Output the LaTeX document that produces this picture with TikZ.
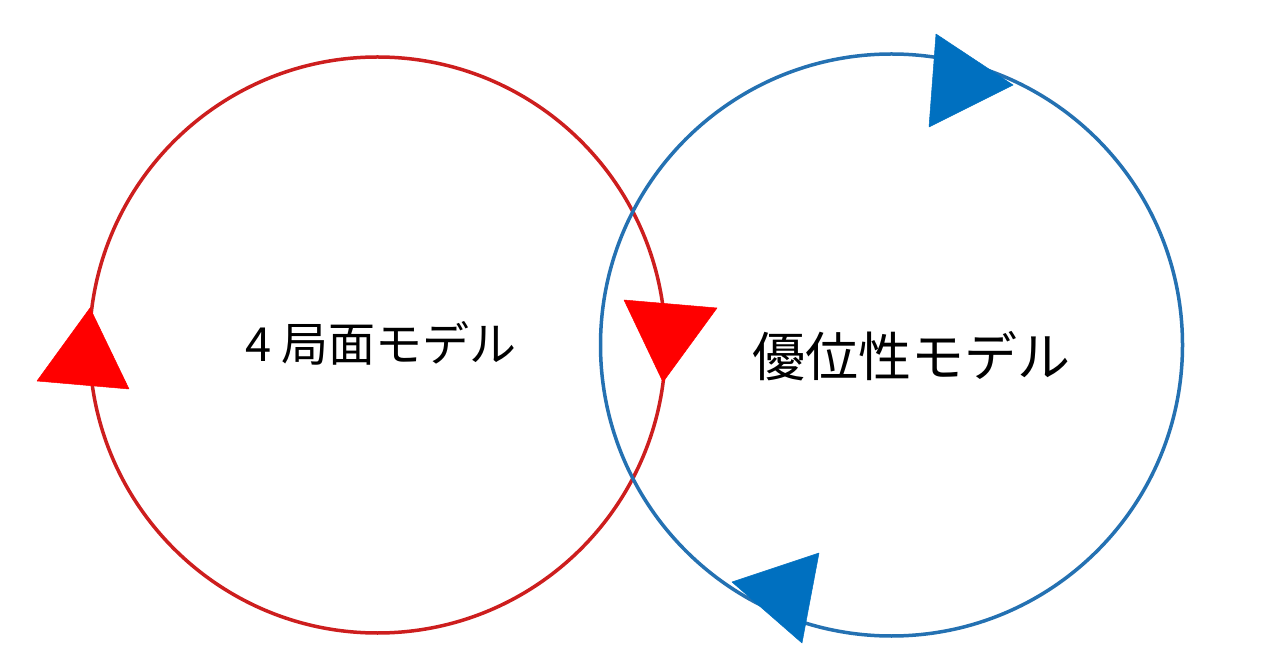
\documentclass[tikz,border=0pt]{standalone}
\usepackage{fontspec}
\newfontfamily\jpfont{Noto Sans CJK JP}
\definecolor{ringred}{RGB}{205,30,30}
\definecolor{tipred}{RGB}{255,0,0}
\definecolor{ringblue}{RGB}{36,113,178}
\definecolor{tipblue}{RGB}{0,112,192}
\tikzset{
  ring/.style={draw, circle, line width=3.5pt, inner sep=0pt},
  tipshape/.style={line width=0.5pt, line join=round},
  label/.style={font=\jpfont, text=black, inner sep=0pt}
}
\begin{document}
\begin{tikzpicture}[x=1pt,y=1pt]
\useasboundingbox (0,0) rectangle (1280,670);
\fill[white] (0,0) rectangle (1280,670);
\node[ring, draw=ringred, minimum size=576pt] (red) at (377.5,325) {};
\node[ring, draw=ringblue, minimum size=582pt] (blue) at (891.5,325) {};
% red triangles
\filldraw[tipshape, fill=tipred, draw=tipred] (90,362) -- (37,289) -- (129,281) -- cycle;
\filldraw[tipshape, fill=tipred, draw=tipred] (624,370) -- (717,362) -- (663,288) -- cycle;
% blue triangles
\filldraw[tipshape, fill=tipblue, draw=tipblue] (936,636) -- (1013,585) -- (929,543) -- cycle;
\filldraw[tipshape, fill=tipblue, draw=tipblue] (819,117) -- (732,88) -- (802,27) -- cycle;
\node[label, font=\jpfont\fontsize{47}{56}\selectfont] (t1) at (381,327) {4 局面モデル};
\node[label, font=\jpfont\fontsize{53}{64}\selectfont] (t2) at (911,314) {優位性モデル};
\end{tikzpicture}
\end{document}
